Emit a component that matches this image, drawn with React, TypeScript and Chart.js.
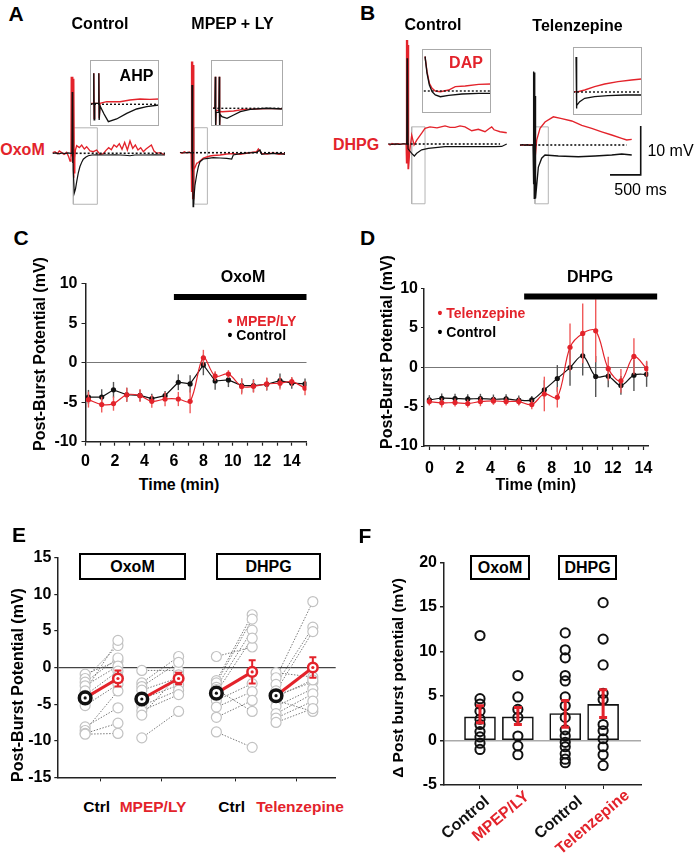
import React, { useEffect, useRef } from 'react';
import { Chart, registerables } from 'chart.js';

Chart.register(...registerables);

const FONT = '"Liberation Sans", Arial, Helvetica, sans-serif';
const RED = '#e3232b';
const RED_ERR = '#f05a5a';
const INK = '#111111';
const GRAY = '#b4b4b4';

// ---------------- A / B recordings: [time (ms), potential (mV, rel. baseline)] ----------------
const A_CTRL_BLACK = [[0,0],[54,0.1],[103,-0.1],[152,0.06],[200,-0.06],[249,0.08],[298,-0.02],[314,0.06],[318,12.5],[323,-2],[328,12.5],[334,-3.4],[352,-8.1],[371,-7.3],[391,-5.8],[417,-4.0],[444,-2.7],[477,-1.7],[498,-1.2],[542,-0.75],[579,-0.5],[639,-0.35],[716,-0.3],[851,-0.35],[1014,-0.3],[1177,-0.4],[1258,-0.5],[1339,-0.35],[1502,-0.35],[1665,-0.33],[1828,-0.35]];
const A_CTRL_RED = [[0,0.13],[37,0.33],[75,-0.08],[108,0.47],[146,0.13],[184,-0.21],[227,0.19],[260,-0.69],[282,-1.57],[298,-0.35],[302,15.6],[308,-0.5],[313,15.6],[319,-0.5],[324,15.6],[330,-0.5],[335,15.2],[341,-5],[346,15.0],[352,-4],[360,-1],[370,0.67],[390,1.55],[434,1.15],[472,1.69],[515,0.87],[553,1.35],[608,0.47],[662,0.33],[716,0.67],[770,-0.21],[825,-0.08],[868,0.6],[912,1.15],[955,0.74],[998,1.69],[1042,1.28],[1085,1.96],[1129,0.81],[1172,2.23],[1216,0.67],[1259,2.51],[1303,1.01],[1346,1.69],[1389,0.67],[1433,1.15],[1476,0.33],[1520,0.87],[1563,1.28],[1607,1.69],[1650,0.47],[1694,-0.01],[1748,0.13],[1802,-0.21],[1829,-0.15]];
const A_CTRL_BASE = [309, 1829];
const A_CTRL_ZOOM = [336, 727, -10.4, 5.2];

const A_MPEP_BLACK = [[0,0.04],[65,-0.06],[130,0.08],[187,-0.02],[194,13.8],[199,-3],[204,13.8],[209,-4],[213,-11.0],[222,-10.0],[244,-6.6],[272,-4.5],[298,-2.9],[326,-1.84],[380,-1.29],[456,-1.14],[542,-1.02],[652,-1.08],[761,-1.14],[842,-1.29],[868,-0.47],[977,-0.2],[1108,-0.06],[1249,0.08],[1303,0.55],[1331,-0.33],[1417,-0.16],[1520,-0.2],[1613,-0.12],[1710,-0.33]];
const A_MPEP_RED = [[0,0.08],[33,-0.1],[73,0.18],[114,-0.06],[155,0.14],[182,-0.16],[186,18.6],[191,-8],[196,18.6],[201,-8],[206,18.6],[211,-9.5],[216,17.9],[221,-9.5],[228,-3.5],[244,-3.0],[272,-2.16],[298,-2.0],[326,-1.69],[380,-1.08],[435,-0.88],[489,-0.67],[542,-0.57],[652,-0.47],[761,-0.27],[868,-0.2],[977,-0.33],[1108,-0.06],[1249,0.2],[1276,0.75],[1331,-0.16],[1417,-0.27],[1520,-0.06],[1613,-0.31],[1710,-0.16]];
const A_MPEP_BASE = [195, 1710];
const A_MPEP_ZOOM = [233, 446, -10.5, 5.1];

const B_CTRL_RED = [[0,0],[28,-0.2],[60,0.1],[109,-0.1],[158,0.08],[207,-0.08],[256,0.06],[290,-0.04],[294,21.2],[300,-4],[305,21.2],[311,-4],[316,21.2],[322,-5],[327,20.2],[333,-5.0],[348,-1.5],[381,1.8],[420,-0.2],[463,0.8],[544,2.2],[598,3.2],[679,3.5],[793,3.3],[924,3.7],[1005,3.4],[1087,3.4],[1168,3.7],[1249,3.5],[1359,2.7],[1466,3.0],[1575,2.5],[1640,3.1],[1684,3.5],[1722,2.9],[1820,2.5],[1929,2.3]];
const B_CTRL_BLACK = [[0,0.05],[60,-0.08],[120,0.04],[180,-0.06],[240,0.05],[300,0],[306,17.5],[311,1],[316,17.2],[321,-1],[381,-1.9],[424,-2.45],[463,-1.9],[544,-1.2],[651,-0.88],[924,-0.55],[1196,-0.55],[1466,-0.55],[1738,-0.55],[1847,-0.5],[1929,0]];
const B_CTRL_BASE = [300, 1820];
const B_CTRL_ZOOM = [381, 598, -12.2, 3.5];

const B_TEL_RED = [[0,0.05],[40,-0.08],[80,0.06],[120,-0.05],[160,0.04],[200,-0.04],[217,0],[224,9],[229,-2],[234,8],[240,-4],[272,1.0],[326,3.4],[407,4.7],[543,5.75],[680,5.4],[843,4.9],[1006,4.0],[1168,3.4],[1331,2.7],[1494,2.04],[1657,1.36],[1738,1.02],[1820,1.16]];
const B_TEL_BLACK = [[0,-0.05],[40,0.06],[80,-0.04],[120,0.05],[160,-0.06],[200,0.04],[212,0],[217,15.0],[222,-8],[227,14.5],[232,-10.9],[237,14.8],[243,-10.9],[248,10],[253,-10.9],[299,-4.5],[353,-2.7],[407,-2.04],[624,-2.25],[950,-2.4],[1222,-2.25],[1494,-2.04],[1657,-1.84],[1820,-2.04]];
const B_TEL_BASE = [233, 1738];
const B_TEL_ZOOM = [244, 461, -12.0, 3.7];

const SCALE_BAR_MS = 500;
const SCALE_BAR_MV = 10;
const SCALE_BAR_AT = [1966, -6.1];

// insets (expanded time base)
const AHP_BLACK = [[0,0.2],[18,0.2],[21,15.5],[23,-7.8],[26,0.5],[46,0.5],[49,15.5],[51,-7.8],[56,-0.85],[78,-4.85],[102,-8.7],[148,-7.35],[204,-4.5],[259,-2.35],[315,-1.2],[383,-0.35]];
const AHP_RED = [[0,0.5],[18,0.4],[21,15.5],[23,-7.0],[26,0.5],[46,0.6],[49,15.5],[51,-7],[56,0.5],[93,1.3],[167,1.3],[222,2.15],[278,2.65],[333,2.5],[383,2.65]];
const AHP_BASE = [0, 383];

const MPEPI_BLACK = [[12,0],[22,0],[24,15.8],[26,-9.2],[28,-2],[44,-2],[46,15.8],[48,-9.2],[50,-3],[61,-4.2],[89,-5.0],[126,-3.35],[163,-1.7],[218,-0.5],[311,0],[394,-0.35]];
const MPEPI_RED = [[12,0.2],[22,0.2],[24,15.8],[26,-8.5],[28,-1],[44,-1],[46,15.8],[48,-8.5],[50,-1.5],[61,-1.7],[126,-1.35],[181,-0.5],[311,-0.15],[394,-0.15]];
const MPEPI_BASE = [13, 394];

const DAP_BLACK = [[17,17.2],[18,16.4],[28,8.85],[41,3.0],[56,-0.35],[74,-2.0],[102,-2.85],[148,-2.15],[222,-1.5],[315,-1.15],[385,-1.15]];
const DAP_RED = [[17,17.2],[18,16.4],[28,9.65],[41,3.85],[56,1.35],[74,0],[102,-0.35],[148,0.5],[185,2.15],[240,2.5],[315,3.35],[385,3.5]];
const DAP_BASE = [10, 385];

const TELI_BLACK = [[17,17.5],[18.5,-8.2],[22,-6.8],[37,-4.85],[65,-3.15],[120,-2.35],[194,-1.85],[287,-1.5],[380,-1.5]];
const TELI_RED = [[0,0],[14,0.15],[28,0.15],[65,1.0],[120,2.65],[176,4.0],[250,5.15],[325,6.0],[380,6.5]];
const TELI_BASE = [0, 380];

// ---------------- C ----------------
const C_TIME = [0.2, 1.1, 1.9, 2.8, 3.7, 4.5, 5.4, 6.3, 7.1, 8.0, 8.8, 9.7, 10.6, 11.4, 12.3, 13.2, 14.0, 14.9];
const C_CTRL = [-4.35, -4.35, -3.44, -4.06, -4.14, -4.55, -4.18, -2.48, -2.69, -0.29, -2.32, -2.19, -2.9, -2.9, -2.73, -2.28, -2.6, -2.69];
const C_CTRL_SEM = [0.9, 1.0, 1.0, 0.9, 0.7, 0.6, 0.6, 1.0, 1.1, 1.3, 1.1, 0.9, 0.9, 0.8, 0.8, 0.9, 0.7, 0.7];
const C_MPEP = [-4.68, -5.3, -5.18, -4.06, -4.18, -4.89, -4.6, -4.6, -4.89, 0.62, -1.7, -1.45, -3.02, -3.0, -2.69, -2.6, -2.4, -3.23];
const C_MPEP_SEM = [1.0, 1.0, 0.9, 0.9, 0.8, 0.8, 0.9, 0.9, 1.5, 1.0, 0.6, 0.5, 1.0, 0.8, 0.8, 0.8, 0.6, 0.9];
const C_DRUG = [6.0, 15.0];
const C_DRUG_LEVEL = 8.3;
const C_MINUTE_TICKS = [0,1,2,3,4,5,6,7,8,9,10,11,12,13,14,15];

// ---------------- D ----------------
const D_TIME = [0, 0.81, 1.68, 2.51, 3.34, 4.19, 5.02, 5.85, 6.7, 7.52, 8.37, 9.2, 10.03, 10.88, 11.7, 12.53, 13.38, 14.21];
const D_CTRL = [-4.14, -3.93, -3.97, -4.02, -3.97, -4.06, -4.02, -4.18, -4.14, -2.85, -1.42, -0.04, 1.46, -1.17, -1.13, -2.3, -1.0, -0.88];
const D_CTRL_SEM = [0.6, 0.6, 0.6, 0.6, 0.6, 0.6, 0.6, 0.6, 0.5, 1.2, 1.7, 2.3, 2.5, 2.6, 1.4, 1.2, 2.0, 1.6];
const D_TEL = [-4.35, -4.52, -4.48, -4.6, -4.35, -4.27, -4.35, -4.35, -4.73, -3.39, -3.81, 2.55, 4.31, 4.64, -0.17, -1.72, 1.38, -0.17];
const D_TEL_SEM = [0.5, 0.6, 0.5, 0.5, 0.6, 0.5, 0.5, 0.5, 0.6, 2.2, 1.3, 3.0, 3.8, 4.0, 1.5, 1.5, 2.3, 1.0];
const D_DRUG = [6.2, 14.9];
const D_DRUG_LEVEL = 9.0;
const D_MINUTE_TICKS = [0,1,2,3,4,5,6,7,8,9,10,11,12,13,14];

// ---------------- E ----------------
const E_CTRL_X = [1.4, 4.25, 8.0, 11.0];
const E_DRUG_X = [3.05, 6.1, 9.8, 12.85];
const E_TICK_X = [2.15, 5.25, 8.95, 12.05];
const E_BASE = [
  [-0.9, -1.5, -2.0, -2.5, -3.2, -3.8, -4.5, -5.2, -8.1, -8.6, -9.0, -9.1],
  [-0.4, -2.1, -2.6, -3.1, -4.3, -5.2, -5.9, -6.5, -9.6],
  [1.5, -1.8, -2.1, -2.7, -3.4, -4.5, -5.4, -6.8, -8.8, -3.0],
  [-0.7, -1.4, -2.3, -3.2, -3.8, -4.5, -5.3, -6.3, -6.9, -7.5, -4.0],
];
const E_DRUG = [
  [0.9, 3.0, 1.3, 0.2, 3.7, -0.5, -1.2, -2.3, -5.5, -3.2, -7.6, -9.0],
  [-0.4, 1.5, 0.7, -1.4, -2.4, -3.1, -3.7, -1.0, -6.0],
  [2.8, 7.2, 6.6, 5.1, 4.0, -2.2, -3.3, -4.5, -10.9, -6.0],
  [-1.3, 9.0, 5.5, 4.9, -2.0, -6.0, -2.9, -3.6, -4.6, -5.6, -1.7],
];
const E_MEAN_BASE = [-4.15, -4.3, -3.5, -3.85];
const E_MEAN_DRUG = [-1.5, -1.5, -0.6, 0.0];
const E_SEM_DRUG = [1.1, 0.8, 1.6, 1.4];

// ---------------- F ----------------
const F_X = [1, 2, 3.25, 4.25];
const F_LABELS = ['Control', 'MPEP/LY', 'Control', 'Telenzepine'];
const F_LABEL_COLORS = [INK, RED, INK, RED];
const F_MEAN = [2.66, 2.66, 3.03, 4.06];
const F_ERR_LOW = [2.0, 1.8, 1.5, 2.6];
const F_ERR_HIGH = [3.9, 3.7, 4.5, 5.7];
const F_CELLS = [
  [11.8, 4.7, 4.1, 3.3, 2.4, 1.8, 1.0, 0.4, -0.3, -1.0],
  [7.3, 4.9, 3.5, 2.6, 0.5, -0.6, -1.6],
  [12.1, 10.2, 9.3, 7.3, 6.7, 4.9, 3.9, 2.6, 1.2, 0.5, -0.2, -0.7, -1.5, -2.1, -2.5],
  [15.5, 11.4, 8.5, 5.3, 4.6, 1.8, 1.1, 0.2, -0.7, -1.6, -2.8],
];

// ---------------- helpers ----------------
Chart.defaults.font.family = FONT;
Chart.defaults.color = '#000';

function drawErr(chart: any, i: number) {
  const ds: any = chart.data.datasets[i];
  if (!ds.err && !ds.errLo) return;
  const xs = chart.scales.x, ys = chart.scales.y, ctx = chart.ctx;
  ctx.save();
  ctx.strokeStyle = ds.errColor || '#444';
  ctx.lineWidth = ds.errWidth || 1.2;
  ds.data.forEach((p: any, j: number) => {
    if (p.y == null) return;
    const lo = ds.errLo ? ds.errLo[j] : p.y - ds.err[j];
    const hi = ds.errHi ? ds.errHi[j] : p.y + ds.err[j];
    if (lo === hi) return;
    const x = xs.getPixelForValue(p.x);
    const y1 = ys.getPixelForValue(lo), y2 = ys.getPixelForValue(hi);
    ctx.beginPath();
    ctx.moveTo(x, y1); ctx.lineTo(x, y2);
    if (ds.errCap) {
      const c = ds.errCap;
      ctx.moveTo(x - c, y1); ctx.lineTo(x + c, y1);
      ctx.moveTo(x - c, y2); ctx.lineTo(x + c, y2);
    }
    ctx.stroke();
  });
  ctx.restore();
}

const errorBars = {
  id: 'errorBars',
  beforeDatasetDraw(chart: any, args: any) {
    const ds: any = chart.data.datasets[args.index];
    if (ds.errLayer !== 'top') drawErr(chart, args.index);
  },
  afterDatasetsDraw(chart: any) {
    chart.data.datasets.forEach((ds: any, i: number) => { if (ds.errLayer === 'top') drawErr(chart, i); });
  },
};
Chart.register(errorBars);

type Box = { left: number; top: number; w: number; h: number };

const KX = 30.7 / SCALE_BAR_MS; // px per ms (main traces)
const KY = 49 / SCALE_BAR_MV;   // px per mV (main traces)
const KXI = 0.18;               // insets
const KYI = 2.0;

const pts = (arr: number[][]) => arr.map(([x, y]) => ({ x, y }));
const rectPath = (z: number[]) => [[z[0], z[2]], [z[1], z[2]], [z[1], z[3]], [z[0], z[3]], [z[0], z[2]]];
const flat = (span: number[], level = 0) => [[span[0], level], [span[1], level]];

function tr(data: number[][], color: string, width = 1.35, dash: number[] = []) {
  return { data: pts(data), borderColor: color, borderWidth: width, borderDash: dash, pointRadius: 0, tension: 0, fill: false };
}

const baseOpts = {
  responsive: false,
  animation: false,
  events: [],
  plugins: { legend: { display: false }, tooltip: { enabled: false } },
};

function traceChart(box: Box, origin: { x: number; y: number }, kx: number, ky: number, datasets: any[]) {
  return {
    type: 'line',
    data: { datasets },
    options: {
      ...baseOpts,
      layout: { padding: 0 },
      scales: {
        x: { type: 'linear', display: false, min: (box.left - origin.x) / kx, max: (box.left + box.w - origin.x) / kx },
        y: { type: 'linear', display: false, min: (origin.y - box.top - box.h) / ky, max: (origin.y - box.top) / ky },
      },
    },
  };
}

const tickFont = { size: 16, weight: 'bold' };

function timeCourse(opts: any) {
  const { xMin, xMax, minuteTicks, padTop, padRight, yWidth, xHeight, xPad, yTick, yPad, drug, drugLevel, series } = opts;
  return {
    type: 'line',
    data: {
      datasets: [
        { data: [{ x: drug[0], y: drugLevel }, { x: drug[1], y: drugLevel }], borderColor: '#000', borderWidth: 6, pointRadius: 0, clip: false, borderCapStyle: 'butt' },
        ...series,
      ],
    },
    options: {
      ...baseOpts,
      layout: { padding: { top: padTop, right: padRight, left: 0, bottom: 0 } },
      scales: {
        x: {
          type: 'linear', min: xMin, max: xMax,
          afterFit: (s: any) => { s.height = xHeight; },
          afterBuildTicks: (s: any) => { s.ticks = minuteTicks.map((v: number) => ({ value: v })); },
          ticks: { autoSkip: false, maxRotation: 0, font: tickFont, color: '#000', padding: xPad, callback: (v: number) => (v % 2 === 0 && v <= 14 ? String(v) : '') },
          grid: { drawOnChartArea: false, drawTicks: true, tickLength: 4, color: '#222', tickWidth: 1.2 },
          border: { color: '#222', width: 1.5 },
        },
        y: {
          type: 'linear', min: -10, max: 10,
          afterFit: (s: any) => { s.width = yWidth; },
          ticks: { stepSize: 5, font: tickFont, color: '#000', padding: yPad },
          grid: { drawTicks: true, tickLength: yTick, color: (c: any) => (c.tick && c.tick.value === 0 ? '#777' : 'rgba(0,0,0,0)'), tickColor: '#222', lineWidth: 1 },
          border: { color: '#222', width: 1.5 },
        },
      },
    },
  };
}

function series(time: number[], vals: number[], sem: number[], color: string, errColor: string, tension: number) {
  return {
    data: time.map((t, i) => ({ x: t, y: vals[i] })),
    err: sem, errColor, errWidth: 1.4,
    borderColor: color, backgroundColor: color, pointBackgroundColor: color,
    borderWidth: 1.2, pointRadius: 2.6, pointBorderWidth: 0, tension,
  };
}

// ---------------- boxes ----------------
const A_CTRL_BOX: Box = { left: 46, top: 55, w: 128, h: 160 };
const A_MPEP_BOX: Box = { left: 175, top: 55, w: 115, h: 160 };
const B_CTRL_BOX: Box = { left: 383, top: 30, w: 128, h: 180 };
const B_TEL_BOX: Box = { left: 515, top: 60, w: 132, h: 150 };
const AHP_BOX: Box = { left: 90, top: 60, w: 69, h: 66 };
const MPEPI_BOX: Box = { left: 211, top: 60, w: 72, h: 66 };
const DAP_BOX: Box = { left: 422, top: 49, w: 69, h: 64 };
const TELI_BOX: Box = { left: 573, top: 47, w: 69, h: 68 };
const C_BOX: Box = { left: 45, top: 270, w: 275, h: 205 };
const D_BOX: Box = { left: 384, top: 276, w: 278, h: 205 };
const E_BOX: Box = { left: 20, top: 545, w: 325, h: 245 };
const F_BOX: Box = { left: 405, top: 550, w: 250, h: 303 };

// ---------------- components ----------------
function ChartBox({ box, make, frame }: { box: Box; make: () => any; frame?: boolean }) {
  const ref = useRef<HTMLCanvasElement>(null);
  useEffect(() => {
    const chart = new Chart(ref.current as HTMLCanvasElement, make());
    return () => chart.destroy();
  }, []);
  return (
    <>
      <canvas ref={ref} width={box.w} height={box.h} style={{ position: 'absolute', left: box.left, top: box.top, width: box.w, height: box.h }} />
      {frame && <div style={{ position: 'absolute', left: box.left, top: box.top, width: box.w, height: box.h, border: '1px solid #aaa', boxSizing: 'border-box' }} />}
    </>
  );
}

function Txt({ x, y, s, size = 16, bold = true, color = '#000', anchor = 'center', rot = 0 }: any) {
  const inner: any =
    anchor === 'center' ? { left: 0, top: 0, transform: 'translate(-50%,-50%)' }
    : anchor === 'left' ? { left: 0, top: 0, transform: 'translateY(-50%)' }
    : { right: 0, top: 0, transform: 'translateY(-50%)' };
  return (
    <div style={{ position: 'absolute', left: x, top: y, width: 0, height: 0, transform: rot ? `rotate(${rot}deg)` : undefined, transformOrigin: '0 0' }}>
      <span style={{ position: 'absolute', whiteSpace: 'nowrap', fontFamily: FONT, fontSize: size, fontWeight: bold ? 700 : 400, color, lineHeight: 1, ...inner }}>{s}</span>
    </div>
  );
}

function LabelBox({ left, top, w, h, s }: any) {
  return (
    <div style={{ position: 'absolute', left, top, width: w, height: h, border: '2px solid #000', boxSizing: 'border-box', display: 'flex', alignItems: 'center', justifyContent: 'center', fontFamily: FONT, fontWeight: 700, fontSize: 16, background: '#fff' }}>{s}</div>
  );
}

function makeE() {
  const dots: any[] = [];
  const dotColors: string[] = [];
  E_CTRL_X.forEach((x, g) => { dots.push({ x, y: E_MEAN_BASE[g] }); dotColors.push(INK); dots.push({ x: E_DRUG_X[g], y: E_MEAN_DRUG[g] }); dotColors.push(RED); });
  const means = E_CTRL_X.map((x, g) => ({
    data: [{ x, y: E_MEAN_BASE[g] }, { x: E_DRUG_X[g], y: E_MEAN_DRUG[g] }],
    err: [0, E_SEM_DRUG[g]], errColor: RED, errWidth: 2, errCap: 3.5,
    borderColor: RED, borderWidth: 3,
    pointRadius: [5.8, 4.8], pointBorderWidth: [3.5, 2.5], pointBorderColor: [INK, RED], pointBackgroundColor: '#fff',
  }));
  const groups = E_CTRL_X.map((x, g) => ({
    data: E_BASE[g].flatMap((b, i) => [{ x, y: b }, { x: E_DRUG_X[g], y: E_DRUG[g][i] }, { x: E_DRUG_X[g], y: null }]),
    borderColor: '#7a7a7a', borderWidth: 1, borderDash: [1.5, 1.5], spanGaps: false,
    pointRadius: (c: any) => (c.raw && c.raw.y == null ? 0 : 5), pointBorderColor: '#c2c2c2', pointBackgroundColor: '#fff', pointBorderWidth: 1.2,
  }));
  return {
    type: 'line',
    data: { datasets: [{ data: dots, showLine: false, pointRadius: 1.6, pointBorderWidth: 0, pointBackgroundColor: dotColors }, ...means, ...groups] },
    options: {
      ...baseOpts,
      layout: { padding: { top: 11, right: 6.7, left: 0, bottom: 0 } },
      scales: {
        x: {
          type: 'linear', min: 0, max: 14,
          afterFit: (s: any) => { s.height = 10; },
          afterBuildTicks: (s: any) => { s.ticks = E_TICK_X.map((v) => ({ value: v })); },
          ticks: { autoSkip: false, callback: () => '' },
          grid: { drawOnChartArea: false, drawTicks: true, tickLength: 4, color: '#222' },
          border: { color: '#222', width: 1.5 },
        },
        y: {
          type: 'linear', min: -15, max: 15,
          afterFit: (s: any) => { s.width = 37.3; },
          ticks: { stepSize: 5, font: tickFont, color: '#000', padding: 3 },
          grid: { drawTicks: true, tickLength: 3, color: (c: any) => (c.tick && c.tick.value === 0 ? '#444' : 'rgba(0,0,0,0)'), tickColor: '#222', lineWidth: 1.2 },
          border: { color: '#222', width: 1.5 },
        },
      },
    },
  };
}

function makeF() {
  const cells = F_X.map((x, g) => ({
    type: 'line', showLine: false,
    data: F_CELLS[g].map((v) => ({ x, y: v })),
    pointRadius: 4.6, pointBorderWidth: 2, pointBorderColor: INK, pointBackgroundColor: 'rgba(255,255,255,0)',
  }));
  return {
    type: 'bar',
    data: {
      datasets: [
        ...cells,
        {
          type: 'bar',
          data: F_X.map((x, i) => ({ x, y: F_MEAN[i] })),
          errLo: F_ERR_LOW, errHi: F_ERR_HIGH, errLayer: 'top', errColor: RED, errWidth: 3, errCap: 4,
          backgroundColor: '#fff', borderColor: INK, borderWidth: 1.6, borderSkipped: false, barThickness: 31,
        },
      ],
    },
    options: {
      ...baseOpts,
      layout: { padding: { top: 9.3, right: 14, left: 0, bottom: 0 } },
      scales: {
        x: {
          type: 'linear', min: 0.05, max: 5.25, offset: false,
          afterFit: (s: any) => { s.height = 68; },
          afterBuildTicks: (s: any) => { s.ticks = F_X.map((v) => ({ value: v })); },
          ticks: { autoSkip: false, callback: () => '' },
          grid: { offset: false, drawOnChartArea: false, drawTicks: true, tickLength: 4, color: '#222' },
          border: { color: '#222', width: 1.5 },
        },
        y: {
          type: 'linear', min: -5, max: 20,
          afterFit: (s: any) => { s.width = 39; },
          ticks: { stepSize: 5, font: tickFont, color: '#000', padding: 3 },
          grid: { drawTicks: true, tickLength: 4, color: (c: any) => (c.tick && c.tick.value === 0 ? '#aaa' : 'rgba(0,0,0,0)'), tickColor: '#222', lineWidth: 1.5 },
          border: { color: '#222', width: 1.5 },
        },
      },
    },
  };
}

export default function App() {
  const scaleBar = [[SCALE_BAR_AT[0] - SCALE_BAR_MS, SCALE_BAR_AT[1]], [SCALE_BAR_AT[0], SCALE_BAR_AT[1]], [SCALE_BAR_AT[0], SCALE_BAR_AT[1] + SCALE_BAR_MV]];
  return (
    <div style={{ position: 'fixed', left: 0, top: 0, width: 695, height: 853, background: '#fff', overflow: 'hidden', fontFamily: FONT }}>
      {/* ---- A ---- */}
      <ChartBox box={A_CTRL_BOX} make={() => traceChart(A_CTRL_BOX, { x: 52.7, y: 153.3 }, KX, KY, [
        tr(flat(A_CTRL_BASE), INK, 1.6, [2, 2]), tr(A_CTRL_BLACK, INK, 1.2), tr(A_CTRL_RED, RED), tr(rectPath(A_CTRL_ZOOM), GRAY, 1),
      ])} />
      <ChartBox box={A_MPEP_BOX} make={() => traceChart(A_MPEP_BOX, { x: 180, y: 152.7 }, KX, KY, [
        tr(flat(A_MPEP_BASE), INK, 1.6, [2, 2]), tr(A_MPEP_BLACK, INK, 1.2), tr(A_MPEP_RED, RED), tr(rectPath(A_MPEP_ZOOM), GRAY, 1),
      ])} />
      <ChartBox box={AHP_BOX} frame make={() => traceChart(AHP_BOX, { x: 90, y: 104.3 }, KXI, KYI, [
        tr(flat(AHP_BASE), INK, 1.4, [2, 2]), tr(AHP_BLACK, INK), tr(AHP_RED, RED),
      ])} />
      <ChartBox box={MPEPI_BOX} frame make={() => traceChart(MPEPI_BOX, { x: 211, y: 108.3 }, KXI, KYI, [
        tr(flat(MPEPI_BASE), INK, 1.4, [2, 2]), tr(MPEPI_BLACK, INK), tr(MPEPI_RED, RED),
      ])} />
      {/* ---- B ---- */}
      <ChartBox box={B_CTRL_BOX} make={() => traceChart(B_CTRL_BOX, { x: 388.3, y: 144 }, KX, KY, [
        tr(flat(B_CTRL_BASE), INK, 1.6, [2, 2]), tr(B_CTRL_BLACK, INK, 1.2), tr(B_CTRL_RED, RED), tr(rectPath(B_CTRL_ZOOM), GRAY, 1),
      ])} />
      <ChartBox box={B_TEL_BOX} make={() => traceChart(B_TEL_BOX, { x: 520, y: 145 }, KX, KY, [
        tr(flat(B_TEL_BASE), INK, 1.6, [2, 2]), tr(B_TEL_BLACK, INK), tr(B_TEL_RED, RED), tr(rectPath(B_TEL_ZOOM), GRAY, 1), tr(scaleBar, INK, 1.6),
      ])} />
      <ChartBox box={DAP_BOX} frame make={() => traceChart(DAP_BOX, { x: 422, y: 91 }, KXI, KYI, [
        tr(flat(DAP_BASE), INK, 1.4, [2, 2]), tr(DAP_BLACK, INK), tr(DAP_RED, RED),
      ])} />
      <ChartBox box={TELI_BOX} frame make={() => traceChart(TELI_BOX, { x: 573, y: 92 }, KXI, KYI, [
        tr(flat(TELI_BASE), INK, 1.4, [2, 2]), tr(TELI_BLACK, INK), tr(TELI_RED, RED),
      ])} />

      <Txt x={16} y={13} s="A" size={21} />
      <Txt x={100} y={24} s="Control" />
      <Txt x={232.5} y={24} s="MPEP + LY" />
      <Txt x={22.5} y={149.5} s="OxoM" color={RED} />
      <Txt x={136.5} y={75.5} s="AHP" />
      <Txt x={367.5} y={12} s="B" size={21} />
      <Txt x={433} y={24.5} s="Control" />
      <Txt x={577.5} y={25.5} s="Telenzepine" />
      <Txt x={356} y={145} s="DHPG" color={RED} />
      <Txt x={466} y={63} s="DAP" color={RED} />
      <Txt x={670.5} y={150.5} s="10 mV" bold={false} />
      <Txt x={640.5} y={190} s="500 ms" bold={false} />

      {/* ---- C ---- */}
      <ChartBox box={C_BOX} make={() => timeCourse({
        xMin: 0, xMax: 15, minuteTicks: C_MINUTE_TICKS, padTop: 10.7, padRight: 13.5, yWidth: 40.5, xHeight: 33.3, xPad: 6, yTick: 4, yPad: 4,
        drug: C_DRUG, drugLevel: C_DRUG_LEVEL,
        series: [series(C_TIME, C_MPEP, C_MPEP_SEM, RED, RED_ERR, 0.35), series(C_TIME, C_CTRL, C_CTRL_SEM, INK, '#555', 0)],
      })} />
      <Txt x={21} y={237} s="C" size={21} />
      <Txt x={243} y={276.5} s="OxoM" />
      <Txt x={40} y={354} s="Post-Burst Potential (mV)" rot={-90} />
      <Txt x={179} y={485} s="Time (min)" />
      <Txt x={227.5} y={321} s="• MPEP/LY" size={14} color={RED} anchor="left" />
      <Txt x={227.5} y={334.5} s="• Control" size={14} anchor="left" />

      {/* ---- D ---- */}
      <ChartBox box={D_BOX} make={() => timeCourse({
        xMin: -0.35, xMax: 14.32, minuteTicks: D_MINUTE_TICKS, padTop: 10.7, padRight: 13.7, yWidth: 40, xHeight: 35, xPad: 9, yTick: 3, yPad: 3,
        drug: D_DRUG, drugLevel: D_DRUG_LEVEL,
        series: [series(D_TIME, D_TEL, D_TEL_SEM, RED, RED_ERR, 0.35), series(D_TIME, D_CTRL, D_CTRL_SEM, INK, '#555', 0.35)],
      })} />
      <Txt x={367.5} y={237} s="D" size={21} />
      <Txt x={590} y={277} s="DHPG" />
      <Txt x={386.7} y={352} s="Post-Burst Potential (mV)" rot={-90} />
      <Txt x={535.8} y={485} s="Time (min)" />
      <Txt x={437.5} y={313} s="• Telenzepine" size={14} color={RED} anchor="left" />
      <Txt x={437.5} y={331.5} s="• Control" size={14} anchor="left" />

      {/* ---- E ---- */}
      <ChartBox box={E_BOX} make={makeE} />
      <Txt x={19} y={534} s="E" size={21} />
      <LabelBox left={79} top={553} w={107} h={27} s="OxoM" />
      <LabelBox left={216} top={553} w={105} h={27} s="DHPG" />
      <Txt x={18.3} y={685} s="Post-Burst Potential (mV)" rot={-90} />
      <Txt x={96.7} y={806.7} s="Ctrl" size={15.5} />
      <Txt x={153} y={806.7} s="MPEP/LY" size={15.5} color={RED} />
      <Txt x={231.7} y={806.7} s="Ctrl" size={15.5} />
      <Txt x={300} y={806.7} s="Telenzepine" size={15.5} color={RED} />

      {/* ---- F ---- */}
      <ChartBox box={F_BOX} make={makeF} />
      <Txt x={365} y={535} s="F" size={21} />
      <LabelBox left={470} top={555} w={60} h={25} s="OxoM" />
      <LabelBox left={558} top={555} w={59} h={25} s="DHPG" />
      <Txt x={398.3} y={677.5} s="Δ Post burst potential (mV)" size={15.5} rot={-90} />
      <Txt x={486.7} y={799} s={F_LABELS[0]} color={F_LABEL_COLORS[0]} anchor="right" rot={-40} />
      <Txt x={526.7} y={794} s={F_LABELS[1]} color={F_LABEL_COLORS[1]} anchor="right" rot={-40} />
      <Txt x={580} y={799} s={F_LABELS[2]} color={F_LABEL_COLORS[2]} anchor="right" rot={-40} />
      <Txt x={626.7} y={793} s={F_LABELS[3]} color={F_LABEL_COLORS[3]} anchor="right" rot={-40} />
    </div>
  );
}
